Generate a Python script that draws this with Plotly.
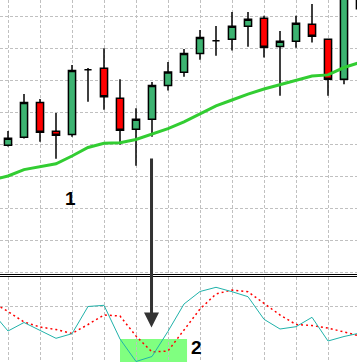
import plotly.graph_objects as go

# ---- data ----
candle_idx = list(range(0, 23))
opens  = [139.6, 142.1, 153.0, 144.0, 143.0, 163.2, 163.7, 154.3, 144.6, 147.7, 158.3, 162.4,
          168.3, 172.3, 172.7, 176.8, 179.3, 170.5, 172.1, 177.4, 172.7, 160.2, 194.4]
highs  = [144.1, 155.6, 154.1, 149.7, 164.7, 163.75, 169.9, 160.2, 151.2, 159.4, 165.6, 169.7,
          175.6, 176.9, 181.25, 181.25, 180.1, 175.3, 180.1, 183.75, 172.7, 191.25, 196.0]
lows   = [139.2, 141.7, 140.7, 135.4, 142.3, 153.2, 150.7, 139.8, 133.2, 142.3, 156.7, 161.0,
          166.3, 167.6, 169.2, 170.4, 167.0, 155.1, 170.1, 171.7, 155.1, 158.7, 182.0]
closes = [141.8, 153.0, 143.7, 142.7, 163.0, 163.2, 154.8, 144.3, 147.7, 158.3, 162.5, 168.3,
          173.3, 172.3, 176.8, 179.0, 170.2, 172.1, 177.7, 173.7, 160.2, 188.1, 182.3]

line_idx = list(range(-1, 23))
ma_values = [128.75, 130.0, 132.0, 133.0, 133.8, 136.25, 138.9, 140.2, 140.4, 141.4, 143.0, 144.8,
             146.9, 149.4, 151.9, 153.75, 155.6, 157.2, 158.6, 160.0, 161.25, 161.6, 163.9, 165.5]
osc_main = [50, 31, 39.5, 32, 23.7, 28.3, 55.5, 56.7, 23, 0.5, 5.5, 30.7,
            58, 70.5, 74.7, 70.3, 65.3, 42.7, 33, 35.3, 44.7, 21, 25.5, 29]
osc_signal = [60, 50.5, 40, 35, 32.5, 28.5, 37.5, 47, 46, 26, 10, 11,
              32, 53, 68, 72, 70.3, 59, 47, 37.5, 36.5, 34, 30, 26]

price_grid = [100, 110, 120, 130, 140, 150, 160, 170, 180]
osc_grid = [56]

W, H = 357, 362
TOP_BOTTOM_PX = 274
BOT_TOP_PX = 277
grid_color = "#c0c0c0"

fig = go.Figure()

fig.add_trace(go.Scatter(
    x=line_idx, y=ma_values, mode="lines",
    line=dict(color="#32cd32", width=3), xaxis="x", yaxis="y", hoverinfo="skip"))

fig.add_trace(go.Candlestick(
    x=candle_idx, open=opens, high=highs, low=lows, close=closes,
    increasing=dict(fillcolor="#3cb371", line=dict(color="black", width=1.5)),
    decreasing=dict(fillcolor="#ff0000", line=dict(color="black", width=1.5)),
    whiskerwidth=0, xaxis="x", yaxis="y"))

fig.add_trace(go.Scatter(
    x=line_idx, y=osc_signal, mode="lines",
    line=dict(color="#ff0000", width=1.5, dash="2px,3px"), xaxis="x2", yaxis="y2"))
fig.add_trace(go.Scatter(
    x=line_idx, y=osc_main, mode="lines",
    line=dict(color="#20b2aa", width=1), xaxis="x2", yaxis="y2"))

x_range = [-0.5, (W - 8) / 16]
axis_common = dict(showticklabels=False, ticks="", zeroline=False, showline=False,
                   showgrid=True, gridcolor=grid_color, griddash="3px,2px", gridwidth=1)

fig.update_layout(
    width=W, height=H, margin=dict(l=0, r=0, t=0, b=0),
    paper_bgcolor="white", plot_bgcolor="white", showlegend=False,
    boxgap=0.36,
    xaxis=dict(domain=[0, 1], range=x_range, anchor="y", tick0=0, dtick=2,
               rangeslider=dict(visible=False), **axis_common),
    xaxis2=dict(domain=[0, 1], range=x_range, anchor="y2", matches="x", tick0=0, dtick=2,
                **axis_common),
    yaxis=dict(domain=[1 - TOP_BOTTOM_PX / H, 1], range=[185 - 0.3125 * TOP_BOTTOM_PX, 185],
               tickmode="array", tickvals=price_grid, **axis_common),
    yaxis2=dict(domain=[0, (H - BOT_TOP_PX) / H], range=[0, H - BOT_TOP_PX],
                tickmode="array", tickvals=osc_grid, **axis_common),
)

# separator double line (crisp 1px rows)
for ypx in (274.5, 276.5):
    fig.add_shape(type="line", xref="paper", yref="paper", x0=0, x1=1,
                  y0=1 - ypx / H, y1=1 - ypx / H, line=dict(color="black", width=1))

# highlight box
fig.add_shape(type="rect", xref="x2", yref="y2", x0=7.0, x1=11.19, y0=0, y1=23,
              fillcolor="#80ff80", line=dict(width=0), layer="below")

# arrow
fig.add_annotation(x=8.97, y=34.5, xref="x2", yref="y2", text="", showarrow=True,
                   ax=0, ay=-170.5, arrowhead=2, arrowsize=1, arrowwidth=3,
                   arrowcolor="#333333", standoff=0)

fig.add_annotation(x=3.9, y=123.1, xref="x", yref="y", text="<b>1</b>", showarrow=False,
                   font=dict(family="Liberation Sans", size=19, color="black"))
fig.add_annotation(x=11.81, y=14.5, xref="x2", yref="y2", text="<b>2</b>", showarrow=False,
                   font=dict(family="Liberation Sans", size=19, color="black"))

fig.write_html("out.html")
